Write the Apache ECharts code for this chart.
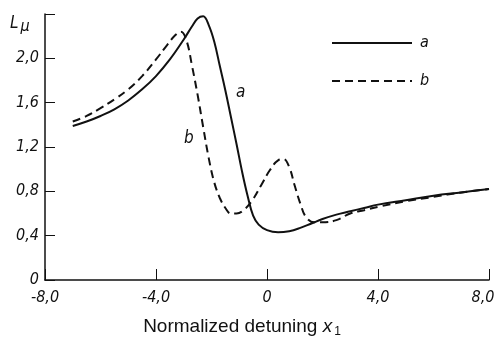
<!DOCTYPE html>
<html>
<head>
<meta charset="utf-8">
<script src="https://cdn.jsdelivr.net/npm/echarts@6/dist/echarts.min.js"></script>
<style>
  html, body { margin: 0; padding: 0; background: #fff; }
  #chart { width: 496px; height: 338px; }
</style>
</head>
<body>
<div id="chart"></div>
<script>
// curve a (solid)
const xA = [-7.0, -6.5, -6.0, -5.5, -5.0, -4.5, -4.0, -3.5, -3.0, -2.7, -2.5, -2.3, -2.1, -1.9, -1.7, -1.5, -1.3, -1.1, -0.9, -0.7, -0.5, -0.3, 0.0, 0.4, 0.8, 1.2, 1.6, 2.0, 2.5, 3.0, 3.5, 4.0, 5.0, 6.0, 7.0, 8.0];
const yA = [1.39, 1.43, 1.48, 1.54, 1.62, 1.72, 1.84, 1.99, 2.17, 2.29, 2.36, 2.38, 2.30, 2.15, 1.93, 1.71, 1.47, 1.23, 0.98, 0.76, 0.58, 0.50, 0.45, 0.43, 0.44, 0.47, 0.51, 0.55, 0.59, 0.62, 0.65, 0.68, 0.72, 0.76, 0.79, 0.82];

// curve b (dashed)
const xB = [-7.0, -6.5, -6.0, -5.5, -5.0, -4.5, -4.0, -3.6, -3.3, -3.1, -2.9, -2.7, -2.5, -2.3, -2.1, -1.9, -1.7, -1.5, -1.3, -1.1, -0.8, -0.5, -0.2, 0.1, 0.4, 0.6, 0.8, 1.0, 1.2, 1.4, 1.7, 2.0, 2.5, 3.0, 3.5, 4.0, 5.0, 6.0, 7.0, 8.0];
const yB = [1.43, 1.48, 1.55, 1.63, 1.72, 1.84, 1.99, 2.12, 2.21, 2.24, 2.16, 1.93, 1.67, 1.38, 1.10, 0.88, 0.74, 0.65, 0.60, 0.60, 0.64, 0.73, 0.86, 0.99, 1.08, 1.09, 1.02, 0.85, 0.69, 0.57, 0.52, 0.52, 0.54, 0.60, 0.63, 0.66, 0.71, 0.75, 0.79, 0.82];

const xTicks = [-8, -4, 0, 4, 8];
const yTicks = [0, 0.4, 0.8, 1.2, 1.6, 2.0, 2.4];

const fmt = v => (v === 0 ? '0' : v.toFixed(1).replace('.', ','));
const labelFont = { fontFamily: 'DejaVu Sans Condensed', fontStyle: 'italic', fontSize: 16, color: '#111' };

const chart = echarts.init(document.getElementById('chart'));
chart.setOption({
  animation: false,
  backgroundColor: '#fff',
  grid: { left: 45, right: 7, top: 14, bottom: 58, containLabel: false, outerBoundsMode: 'none' },
  legend: {
    orient: 'vertical',
    left: 331,
    top: 35,
    padding: 0,
    itemWidth: 80,
    itemHeight: 14,
    itemGap: 22,
    itemStyle: { opacity: 0 },
    textStyle: Object.assign({}, labelFont, { fontSize: 16, padding: [0, 0, 0, 3] }),
    data: ['a', 'b']
  },
  xAxis: {
    type: 'value',
    min: -8, max: 8, interval: 4,
    splitLine: { show: false },
    axisLine: { onZero: false, lineStyle: { color: '#111', width: 1.5 } },
    axisTick: { inside: true, length: 11, lineStyle: { color: '#111' } },
    axisLabel: Object.assign({
      margin: 10,
      formatter: v => (v === xTicks[xTicks.length - 1] ? '{r|' + fmt(v) + '}' : fmt(v)),
      rich: { r: Object.assign({ padding: [0, 12, 0, 0] }, labelFont) }
    }, labelFont),
    name: '{n|Normalized detuning }{x|x}{s|1}',
    nameLocation: 'middle',
    nameGap: 36,
    nameTextStyle: {
      padding: [0, 50, 0, 0],
      rich: {
        n: { fontFamily: 'Liberation Sans', fontSize: 19, color: '#111' },
        x: { fontFamily: 'Liberation Sans', fontStyle: 'italic', fontSize: 19, color: '#111' },
        s: { fontFamily: 'Liberation Sans', fontSize: 12, color: '#111', verticalAlign: 'bottom', padding: [10, 0, 0, 2] }
      }
    }
  },
  yAxis: {
    type: 'value',
    min: 0, max: 2.4, interval: 0.4,
    splitLine: { show: false },
    axisLine: { show: true, onZero: false, lineStyle: { color: '#111', width: 1.5 } },
    axisTick: { show: true, inside: true, length: 10, lineStyle: { color: '#111' } },
    axisLabel: Object.assign({ margin: 6, formatter: v => (Math.abs(v - yTicks[yTicks.length - 1]) < 1e-6 ? '' : fmt(v)) }, labelFont)
  },
  graphic: [
    { type: 'text', left: 10, top: 15, style: { text: '{L|L}{m|μ}', rich: {
        L: { fontFamily: 'DejaVu Sans Condensed', fontStyle: 'italic', fontSize: 17, fill: '#111' },
        m: { fontFamily: 'DejaVu Sans Condensed', fontStyle: 'italic', fontSize: 16, fill: '#111', padding: [6, 0, 0, 2] }
      } } },
    { type: 'text', left: 236, top: 84, style: { text: 'a', font: 'italic 17px "DejaVu Sans Condensed"', fill: '#111' } },
    { type: 'text', left: 184, top: 130, style: { text: 'b', font: 'italic 17px "DejaVu Sans Condensed"', fill: '#111' } }
  ],
  series: [
    {
      name: 'a',
      type: 'line',
      smooth: 0.4,
      symbol: 'none',
      lineStyle: { color: '#111', width: 2 },
      itemStyle: { color: '#111' },
      data: xA.map((x, i) => [x, yA[i]])
    },
    {
      name: 'b',
      type: 'line',
      smooth: 0.4,
      symbol: 'none',
      lineStyle: { color: '#111', width: 2, type: [8, 5] },
      itemStyle: { color: '#111' },
      data: xB.map((x, i) => [x, yB[i]])
    }
  ]
});
</script>
</body>
</html>
